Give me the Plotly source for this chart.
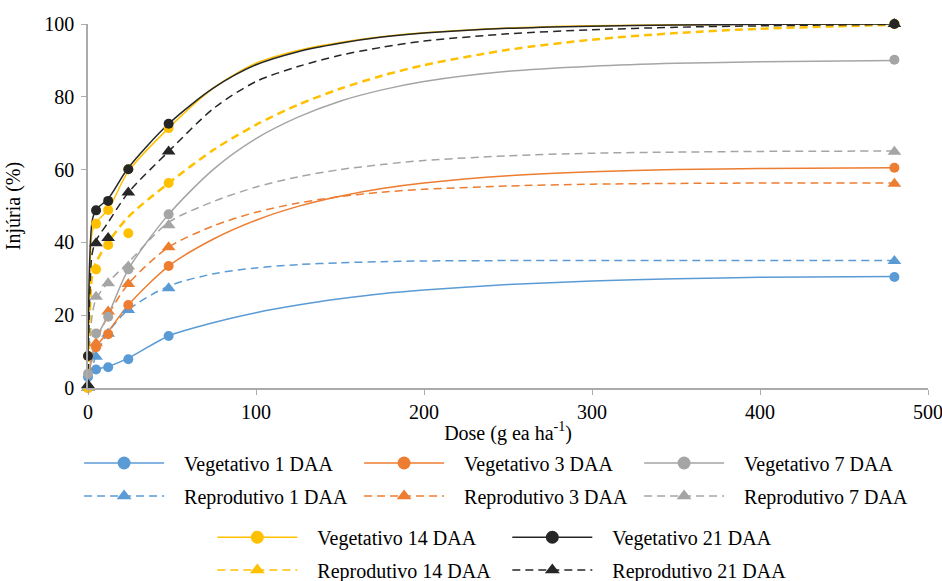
import plotly.graph_objects as go

# ---- data -----------------------------------------------------------------
DOSES = [0, 4.8, 12, 24, 48, 480]
CURVE_X = [0, 1, 2.5, 4.8, 12, 24, 48, 75, 100, 125, 150, 175, 200, 250, 300, 350, 400, 480]
X_TICKS = [0, 100, 200, 300, 400, 500]
Y_TICKS = [0, 20, 40, 60, 80, 100]

names = ["Vegetativo 1 DAA", "Reprodutivo 1 DAA",
         "Vegetativo 3 DAA", "Reprodutivo 3 DAA",
         "Vegetativo 7 DAA", "Reprodutivo 7 DAA",
         "Vegetativo 14 DAA", "Reprodutivo 14 DAA",
         "Vegetativo 21 DAA", "Reprodutivo 21 DAA"]

veg1_pts = [3.0, 5.1, 5.7, 7.9, 14.3, 30.5]
rep1_pts = [0.0, 8.6, 14.9, 21.4, 27.4, 34.9]
veg3_pts = [0.0, 11.2, 14.8, 22.8, 33.5, 60.5]
rep3_pts = [0.0, 12.3, 21.0, 28.6, 38.7, 56.1]
veg7_pts = [3.9, 15.0, 19.6, 32.6, 47.7, 90.2]
rep7_pts = [0.0, 25.1, 28.8, 33.4, 44.7, 64.9]
veg14_pts = [8.8, 45.1, 48.9, 60.1, 71.4, 100.0]
rep14_pts = [0.0, 32.6, 39.3, 42.5, 56.3, 100.0]
veg21_pts = [8.8, 48.8, 51.4, 60.1, 72.6, 100.0]
rep21_pts = [0.8, 39.8, 41.2, 53.7, 65.0, 100.0]

#            0    1    2.5  4.8  12   24   48   75   100  125  150  175  200  250  300  350  400  480
veg1_fit = [3.0, 3.8, 4.5, 5.1, 5.9, 8.2, 14.3, 18.0, 20.7, 22.8, 24.5, 25.9, 26.9, 28.4, 29.4, 30.0, 30.4, 30.6]
rep1_fit = [0.0, 2.5, 5.5, 9.0, 15.3, 21.5, 28.0, 31.4, 33.0, 33.9, 34.4, 34.7, 34.9, 35.0, 35.0, 35.0, 35.0, 35.0]
veg3_fit = [2.0, 5.0, 8.5, 11.2, 15.5, 22.8, 33.5, 41.0, 46.1, 49.9, 52.7, 54.8, 56.3, 58.3, 59.4, 60.0, 60.3, 60.5]
rep3_fit = [0.0, 4.0, 8.0, 12.5, 20.0, 28.6, 38.7, 44.6, 48.3, 50.8, 52.6, 53.8, 54.6, 55.5, 56.0, 56.2, 56.3, 56.3]
veg7_fit = [3.9, 6.0, 9.0, 13.5, 20.0, 32.6, 47.7, 60.2, 68.5, 74.4, 78.8, 81.9, 84.2, 87.0, 88.4, 89.2, 89.6, 90.0]
rep7_fit = [0.0, 12.0, 20.0, 24.5, 29.0, 34.5, 45.5, 51.3, 55.2, 58.0, 60.0, 61.4, 62.5, 63.8, 64.5, 64.8, 65.0, 65.1]
veg14_fit = [8.8, 30.0, 43.0, 45.5, 49.0, 59.5, 71.4, 82.5, 89.2, 92.7, 94.9, 96.5, 97.6, 98.9, 99.5, 99.8, 99.9, 100.0]
rep14_fit = [0.0, 20.0, 31.0, 34.5, 40.0, 47.0, 56.3, 65.5, 72.3, 77.8, 82.2, 85.8, 88.7, 92.9, 95.7, 97.5, 98.7, 99.8]
veg21_fit = [8.8, 35.0, 46.0, 49.0, 52.0, 60.5, 72.6, 82.5, 88.8, 92.4, 94.7, 96.4, 97.5, 98.8, 99.4, 99.7, 99.9, 100.0]
rep21_fit = [0.8, 25.0, 37.0, 40.5, 45.5, 53.7, 65.0, 76.9, 84.2, 88.3, 91.4, 93.6, 95.3, 97.3, 98.4, 99.1, 99.5, 99.9]

points = [veg1_pts, rep1_pts, veg3_pts, rep3_pts, veg7_pts, rep7_pts,
          veg14_pts, rep14_pts, veg21_pts, rep21_pts]
fits = [veg1_fit, rep1_fit, veg3_fit, rep3_fit, veg7_fit, rep7_fit,
        veg14_fit, rep14_fit, veg21_fit, rep21_fit]

# ---- styles ---------------------------------------------------------------
BLUE, ORANGE, GRAY, YELLOW, BLACK = "#5B9BD5", "#ED7D31", "#A5A5A5", "#FFC000", "#262626"
colors = [BLUE, BLUE, ORANGE, ORANGE, GRAY, GRAY, YELLOW, YELLOW, BLACK, BLACK]
dashes = ["solid", "8px,5px"] * 5
widths = [1.5, 1.5, 1.5, 1.5, 1.5, 1.5, 1.5, 2.5, 1.5, 1.5]
plot_symbols = ["circle", "triangle-up", "circle", "triangle-up", "circle", "triangle-up",
                "circle", "circle", "circle", "triangle-up"]
legend_symbols = ["circle", "triangle-up"] * 5
legend_ids = ["legend", "legend2", "legend", "legend2", "legend", "legend2",
              "legend3", "legend4", "legend3", "legend4"]
legend_rank = [1, 1, 2, 2, 3, 3, 1, 1, 2, 2]

FONT = "Liberation Serif"
GAP = "\u00a0\u00a0\u00a0"

fig = go.Figure()
for i in range(10):
    fig.add_trace(go.Scatter(x=CURVE_X, y=fits[i], mode="lines", showlegend=False,
                             line=dict(color=colors[i], width=widths[i], dash=dashes[i],
                                       shape="spline", smoothing=0.8),
                             cliponaxis=False, hoverinfo="skip"))
for i in range(10):
    sz = 10 if plot_symbols[i] == "circle" else 12
    fig.add_trace(go.Scatter(x=DOSES, y=points[i], mode="markers", showlegend=False,
                             marker=dict(color=colors[i], size=sz, symbol=plot_symbols[i]),
                             cliponaxis=False))
for i in range(10):
    fig.add_trace(go.Scatter(x=[None], y=[None], mode="lines+markers", name=GAP + names[i],
                             legend=legend_ids[i], legendrank=legend_rank[i],
                             line=dict(color=colors[i], width=1.5, dash=dashes[i]),
                             marker=dict(color=colors[i], size=13, symbol=legend_symbols[i])))

axis_common = dict(showgrid=False, zeroline=False, showline=True, linecolor="#ABABAB",
                   linewidth=1.5, ticks="outside", ticklen=5, tickcolor="#ABABAB",
                   automargin=False, ticklabeloverflow="allow",
                   tickfont=dict(family=FONT, size=20, color="#000000"))

fig.update_xaxes(range=[0, 500], tickmode="array", tickvals=X_TICKS,
                 ticktext=[str(v) for v in X_TICKS],
                 title=dict(text="Dose (g ea ha<sup>-1</sup>)", font=dict(family=FONT, size=20, color="#000"),
                            standoff=4),
                 **axis_common)
fig.update_yaxes(range=[0, 100], tickmode="array", tickvals=Y_TICKS,
                 ticktext=[str(v) for v in Y_TICKS], ticklabelstandoff=3,
                 title=dict(text="Injúria (%)", font=dict(family=FONT, size=20, color="#000"),
                            standoff=18),
                 **axis_common)

leg_common = dict(orientation="h", font=dict(family=FONT, size=20, color="#000"),
                  itemwidth=80, entrywidthmode="pixels", bgcolor="rgba(0,0,0,0)",
                  xanchor="left", yanchor="middle", tracegroupgap=0, itemclick=False)
fig.update_layout(
    width=942, height=581,
    margin=dict(l=88, r=14, t=24, b=193, autoexpand=False),
    paper_bgcolor="white", plot_bgcolor="white",
    font=dict(family=FONT, size=20, color="#000"),
    legend=dict(x=-0.0106, y=-0.206, entrywidth=185, **leg_common),
    legend2=dict(x=-0.0106, y=-0.297, entrywidth=185, **leg_common),
    legend3=dict(x=0.148, y=-0.41, entrywidth=200, **leg_common),
    legend4=dict(x=0.148, y=-0.50, entrywidth=200, **leg_common),
)

# remove the browser's default 8px page margin so the 942x581 figure fills the window
fig.write_html("out.html", config={"displayModeBar": False},
               post_script="document.body.style.margin='0';")
